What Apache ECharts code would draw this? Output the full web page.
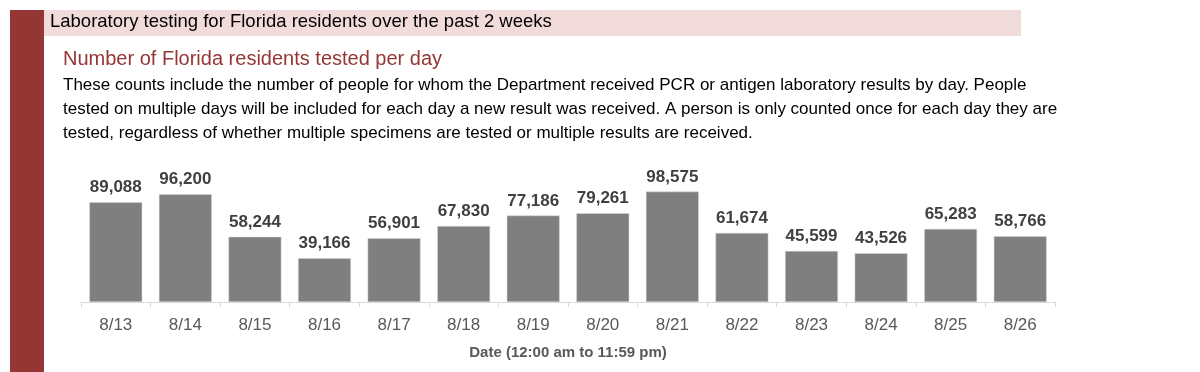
<!DOCTYPE html>
<html><head><meta charset="utf-8">
<script src="https://cdn.jsdelivr.net/npm/echarts@6/dist/echarts.min.js"></script>
<style>html,body{margin:0;padding:0;background:#fff}#c{width:1200px;height:372px}</style>
</head><body><div id="c"></div>
<script>
const categories = ['8/13','8/14','8/15','8/16','8/17','8/18','8/19','8/20','8/21','8/22','8/23','8/24','8/25','8/26'];
const tested = [89088,96200,58244,39166,56901,67830,77186,79261,98575,61674,45599,43526,65283,58766];
const headerTitle = 'Laboratory testing for Florida residents over the past 2 weeks';
const chartTitle = 'Number of Florida residents tested per day';
const descLines = [
  'These counts include the number of people for whom the Department received PCR or antigen laboratory results by day. People',
  'tested on multiple days will be included for each day a new result was received. A person is only counted once for each day they are',
  'tested, regardless of whether multiple specimens are tested or multiple results are received.'
];
const axisName = 'Date (12:00 am to 11:59 pm)';
const FONT = '"Liberation Sans", Arial, sans-serif';

const chart = echarts.init(document.getElementById('c'), null, {renderer:'canvas'});
const graphics = [
  {type:'rect', left:10, top:10, shape:{width:34, height:362}, style:{fill:'#943634'}},
  {type:'rect', left:44, top:10, shape:{width:977, height:26}, style:{fill:'#f2dcdb'}},
  {type:'text', left:50, top:12, style:{text:headerTitle, font:'18.5px '+FONT, fill:'#000'}},
  {type:'text', left:63, top:49, style:{text:chartTitle, font:'20px '+FONT, fill:'#943634'}}
];
descLines.forEach((t,i)=>graphics.push({type:'text', left:63, top:77+i*24, style:{text:t, font:'17px '+FONT, fill:'#000'}}));

chart.setOption({
  animation:false,
  textStyle:{fontFamily:FONT},
  graphic:graphics,
  grid:{left:81, right:145, top:190, bottom:70, containLabel:false},
  xAxis:{
    type:'category', data:categories,
    axisLine:{lineStyle:{color:'#d9d9d9', width:1}},
    axisTick:{show:true, length:5, lineStyle:{color:'#d9d9d9'}},
    axisLabel:{color:'#595959', fontSize:17, margin:15},
    name:axisName, nameLocation:'middle', nameGap:43,
    nameTextStyle:{color:'#595959', fontSize:15, fontWeight:'bold'}
  },
  yAxis:{type:'value', min:0, max:100000, show:false, splitLine:{show:false}},
  series:[{
    type:'bar', data:tested, barCategoryGap:'24%',
    itemStyle:{color:'#7f7f7f', borderColor:'#d9d9d9', borderWidth:0.5},
    label:{show:true, position:'top', distance:6, color:'#404040', fontSize:17, fontWeight:'bold',
      formatter:p=>p.value.toLocaleString('en-US')}
  }]
});
</script></body></html>
